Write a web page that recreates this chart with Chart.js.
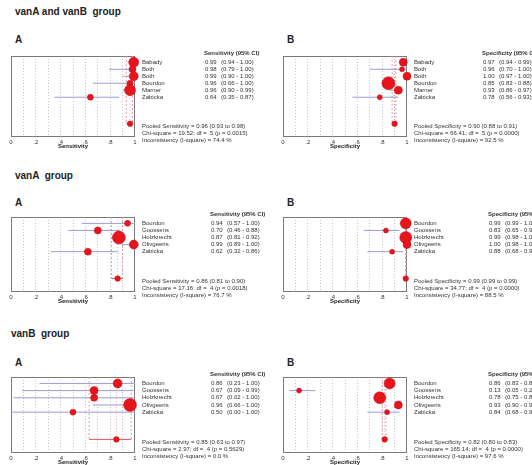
<!DOCTYPE html>
<html>
<head>
<meta charset="utf-8">
<script src="https://cdn.jsdelivr.net/npm/chart.js@4"></script>
<style>
  body { margin: 0; background: #fff; }
  #wrap { position: relative; width: 532px; height: 465px; overflow: hidden; font-family: "Liberation Sans", Arial, sans-serif; }
  .t { position: absolute; font-weight: bold; font-size: 10px; color: #222; line-height: 1; white-space: pre; }
  canvas { position: absolute; }
</style>
</head>
<body>
<div id="wrap">
  <div class="t" style="left:15px;top:7px">vanA and vanB  group</div>
  <div class="t" style="left:15px;top:35px">A</div>
  <div class="t" style="left:287px;top:35px">B</div>
  <div class="t" style="left:15px;top:171px">vanA  group</div>
  <div class="t" style="left:15px;top:198px">A</div>
  <div class="t" style="left:287px;top:198px">B</div>
  <div class="t" style="left:11px;top:329px">vanB  group</div>
  <div class="t" style="left:15px;top:358px">A</div>
  <div class="t" style="left:287px;top:358px">B</div>
</div>
<script>
// ---- vanA and vanB group ----
const abStudies = ["Babady", "Both", "Both", "Bourdon", "Marner", "Zabicka"];
const abSens = [0.99, 0.98, 0.99, 0.96, 0.96, 0.64];
const abSensLo = [0.94, 0.79, 0.90, 0.66, 0.90, 0.35];
const abSensHi = [1.00, 1.00, 1.00, 1.00, 0.99, 0.87];
const abSensW = [5, 3.5, 4.5, 3, 5.5, 3];
const abSensPooled = [0.96, 0.93, 0.98];
const abSensStats = ["19.52", "5", "0.0015", "74.4"];
const abSpec = [0.97, 0.96, 1.00, 0.85, 0.93, 0.78];
const abSpecLo = [0.94, 0.70, 0.97, 0.83, 0.86, 0.56];
const abSpecHi = [0.99, 1.00, 1.00, 0.88, 0.97, 0.93];
const abSpecW = [4, 2.5, 4, 6.5, 4, 2.5];
const abSpecPooled = [0.90, 0.88, 0.91];
const abSpecStats = ["66.41", "5", "0.0000", "92.5"];

// ---- vanA group ----
const aStudies = ["Bourdon", "Goossens", "Holzknecht", "Olivgeeris", "Zabicka"];
const aSens = [0.94, 0.70, 0.87, 0.99, 0.62];
const aSensLo = [0.57, 0.46, 0.81, 0.89, 0.32];
const aSensHi = [1.00, 0.88, 0.92, 1.00, 0.86];
const aSensW = [3, 3.5, 6.5, 4.5, 3.5];
const aSensPooled = [0.86, 0.81, 0.90];
const aSensStats = ["17.16", "4", "0.0018", "76.7"];
const aSpec = [0.99, 0.83, 0.99, 1.00, 0.88];
const aSpecLo = [0.99, 0.65, 0.98, 0.98, 0.68];
const aSpecHi = [1.00, 0.94, 1.00, 1.00, 0.97];
const aSpecW = [5.5, 2.5, 6, 4, 2.5];
const aSpecPooled = [0.99, 0.99, 0.99];
const aSpecStats = ["34.77", "4", "0.0000", "88.5"];

// ---- vanB group ----
const bStudies = ["Bourdon", "Goossens", "Holzknecht", "Olivgeeris", "Zabicka"];
const bSens = [0.86, 0.67, 0.67, 0.96, 0.50];
const bSensLo = [0.23, 0.09, 0.02, 0.66, 0.00];
const bSensHi = [1.00, 0.99, 1.00, 1.00, 1.00];
const bSensW = [4.5, 4, 3.5, 6.5, 3];
const bSensPooled = [0.85, 0.63, 0.97];
const bSensStats = ["2.97", "4", "0.5629", "0.0"];
const bSpec = [0.86, 0.13, 0.78, 0.93, 0.84];
const bSpecLo = [0.83, 0.05, 0.75, 0.90, 0.68];
const bSpecHi = [0.89, 0.26, 0.81, 0.95, 0.94];
const bSpecW = [5.5, 2.5, 6, 4, 2.5];
const bSpecPooled = [0.82, 0.80, 0.83];
const bSpecStats = ["165.14", "4", "0.0000", "97.6"];

const xTickLabels = ["0", ".2", ".4", ".6", ".8", "1"];

const FONT = '"Liberation Sans", Arial, sans-serif';
const fx = (v) => v.toFixed(2);

// box frame, study names, values and pooled summary
const forestText = {
  id: "forestText",
  beforeDatasetsDraw(chart) {
    const { ctx, chartArea: a } = chart;
    ctx.save();
    ctx.strokeStyle = "#7a7a7a";
    ctx.lineWidth = 1;
    ctx.setLineDash([]);
    ctx.strokeRect(Math.round(a.left) + 0.5, Math.round(a.top) + 0.5, Math.round(a.width) - 1, Math.round(a.height) - 1);
    ctx.restore();
  },
  afterDraw(chart, args, o) {
    const { ctx, chartArea: a, scales: { y } } = chart;
    const nameX = a.right + 7;
    const valX = a.right + o.valX;
    ctx.save();
    ctx.fillStyle = "#333";
    ctx.textBaseline = "middle";
    ctx.font = "bold 6px " + FONT;
    ctx.fillText(o.measure + " (95% CI)", valX - 1, a.top - 3);
    ctx.font = "6px " + FONT;
    o.names.forEach((nm, i) => {
      const py = y.getPixelForValue(i);
      ctx.fillText(nm, nameX, py);
      ctx.fillText(fx(o.est[i]), valX, py);
      ctx.fillText("(" + fx(o.lo[i]) + " - " + fx(o.hi[i]) + ")", valX + 16, py);
    });
    const p = o.pooled, s = o.stats;
    const py = y.getPixelForValue(o.names.length + 2.8);
    ctx.fillText("Pooled " + o.measure + " = " + fx(p[0]) + " (" + fx(p[1]) + " to " + fx(p[2]) + ")", nameX, py + 3);
    ctx.fillText("Chi-square = " + s[0] + "; df =  " + s[1] + " (p = " + s[2] + ")", nameX, py + 10);
    ctx.fillText("Inconsistency (I-square) = " + s[3] + " %", nameX, py + 17);
    ctx.restore();
  }
};

function panel(left, boxTop, boxH, width, d) {
  const padTop = 14, axisH = 13, padBottom = 4;
  const cv = document.createElement("canvas");
  cv.width = width;
  cv.height = padTop + boxH + axisH + padBottom;
  cv.style.left = left + "px";
  cv.style.top = (boxTop - padTop) + "px";
  document.getElementById("wrap").appendChild(cv);

  const n = d.names.length;
  const pooledRow = n + 2.8;
  const yMin = -0.9, yMax = n + 4.7;
  const datasets = [];

  // study estimates, sized by weight (drawn on top)
  datasets.push({
    order: 0,
    data: d.est.map((v, i) => ({ x: v, y: i })),
    pointRadius: d.w, backgroundColor: "#e8141c", borderColor: "#c00c18", borderWidth: 0.5
  });
  // pooled estimate
  datasets.push({
    order: 0,
    data: [{ x: d.pooled[0], y: pooledRow }],
    pointRadius: 2.8, backgroundColor: "#e8141c", borderColor: "#c00c18", borderWidth: 0.5
  });
  // study confidence intervals
  d.names.forEach((nm, i) => datasets.push({
    order: 1,
    data: [{ x: d.lo[i], y: i }, { x: d.hi[i], y: i }],
    showLine: true, borderColor: "#9d9dd2", borderWidth: 1, pointRadius: 0
  }));
  // pooled CI
  datasets.push({
    order: 1,
    data: [{ x: d.pooled[1], y: pooledRow }, { x: d.pooled[2], y: pooledRow }],
    showLine: true, borderColor: "#dc5560", borderWidth: 1, pointRadius: 0
  });
  // pooled CI bounds and pooled estimate, dashed from the top down to the pooled row
  [d.pooled[1], d.pooled[2]].forEach((v) => datasets.push({
    order: 2,
    data: [{ x: v, y: yMin }, { x: v, y: pooledRow }],
    showLine: true, borderColor: "#e6a0ab", borderWidth: 1, borderDash: [2, 2], pointRadius: 0
  }));
  datasets.push({
    order: 2,
    data: [{ x: d.pooled[0], y: yMin }, { x: d.pooled[0], y: pooledRow }],
    showLine: true, borderColor: "rgba(220,70,90,0.45)", borderWidth: 1, borderDash: [1, 2], pointRadius: 0
  });

  new Chart(cv.getContext("2d"), {
    type: "scatter",
    data: { datasets },
    options: {
      responsive: false,
      animation: false,
      events: [],
      clip: false,
      layout: { padding: { left: d.padL, right: width - d.padL - 124, top: padTop, bottom: padBottom } },
      plugins: {
        legend: { display: false },
        tooltip: { enabled: false },
        forestText: d
      },
      scales: {
        x: {
          type: "linear", min: 0, max: 1,
          afterFit: (s) => { s.height = axisH; },
          border: { display: false, dash: [1, 2] },
          grid: {
            drawTicks: false,
            color: (c) => (c.index === 0 || c.index === 10 ? "rgba(0,0,0,0)" : "#c4c4c4"),
            lineWidth: 1
          },
          ticks: {
            stepSize: 0.1, autoSkip: false, maxRotation: 0, padding: 2,
            color: "#333", font: { size: 6, family: FONT },
            callback: (v) => {
              const k = Math.round(v * 10);
              return k % 2 === 0 ? xTickLabels[k / 2] : "";
            }
          },
          title: {
            display: true, text: d.measure, color: "#222", padding: 0,
            font: { size: 6, weight: "bold", family: FONT }
          }
        },
        y: { type: "linear", display: false, reverse: true, min: yMin, max: yMax }
      }
    },
    plugins: [forestText]
  });
}

panel(0, 56, 81, 270, { names: abStudies, est: abSens, lo: abSensLo, hi: abSensHi, w: abSensW, pooled: abSensPooled, stats: abSensStats, measure: "Sensitivity", valX: 70, padL: 11 });
panel(270, 56, 81, 262, { names: abStudies, est: abSpec, lo: abSpecLo, hi: abSpecHi, w: abSpecW, pooled: abSpecPooled, stats: abSpecStats, measure: "Specificity", valX: 76, padL: 13 });
panel(0, 217, 75, 270, { names: aStudies, est: aSens, lo: aSensLo, hi: aSensHi, w: aSensW, pooled: aSensPooled, stats: aSensStats, measure: "Sensitivity", valX: 76, padL: 11 });
panel(270, 217, 75, 262, { names: aStudies, est: aSpec, lo: aSpecLo, hi: aSpecHi, w: aSpecW, pooled: aSpecPooled, stats: aSpecStats, measure: "Specificity", valX: 82, padL: 13 });
panel(0, 377, 76, 270, { names: bStudies, est: bSens, lo: bSensLo, hi: bSensHi, w: bSensW, pooled: bSensPooled, stats: bSensStats, measure: "Sensitivity", valX: 76, padL: 11 });
panel(270, 377, 76, 262, { names: bStudies, est: bSpec, lo: bSpecLo, hi: bSpecHi, w: bSpecW, pooled: bSpecPooled, stats: bSpecStats, measure: "Specificity", valX: 82, padL: 13 });
</script>
</body>
</html>
